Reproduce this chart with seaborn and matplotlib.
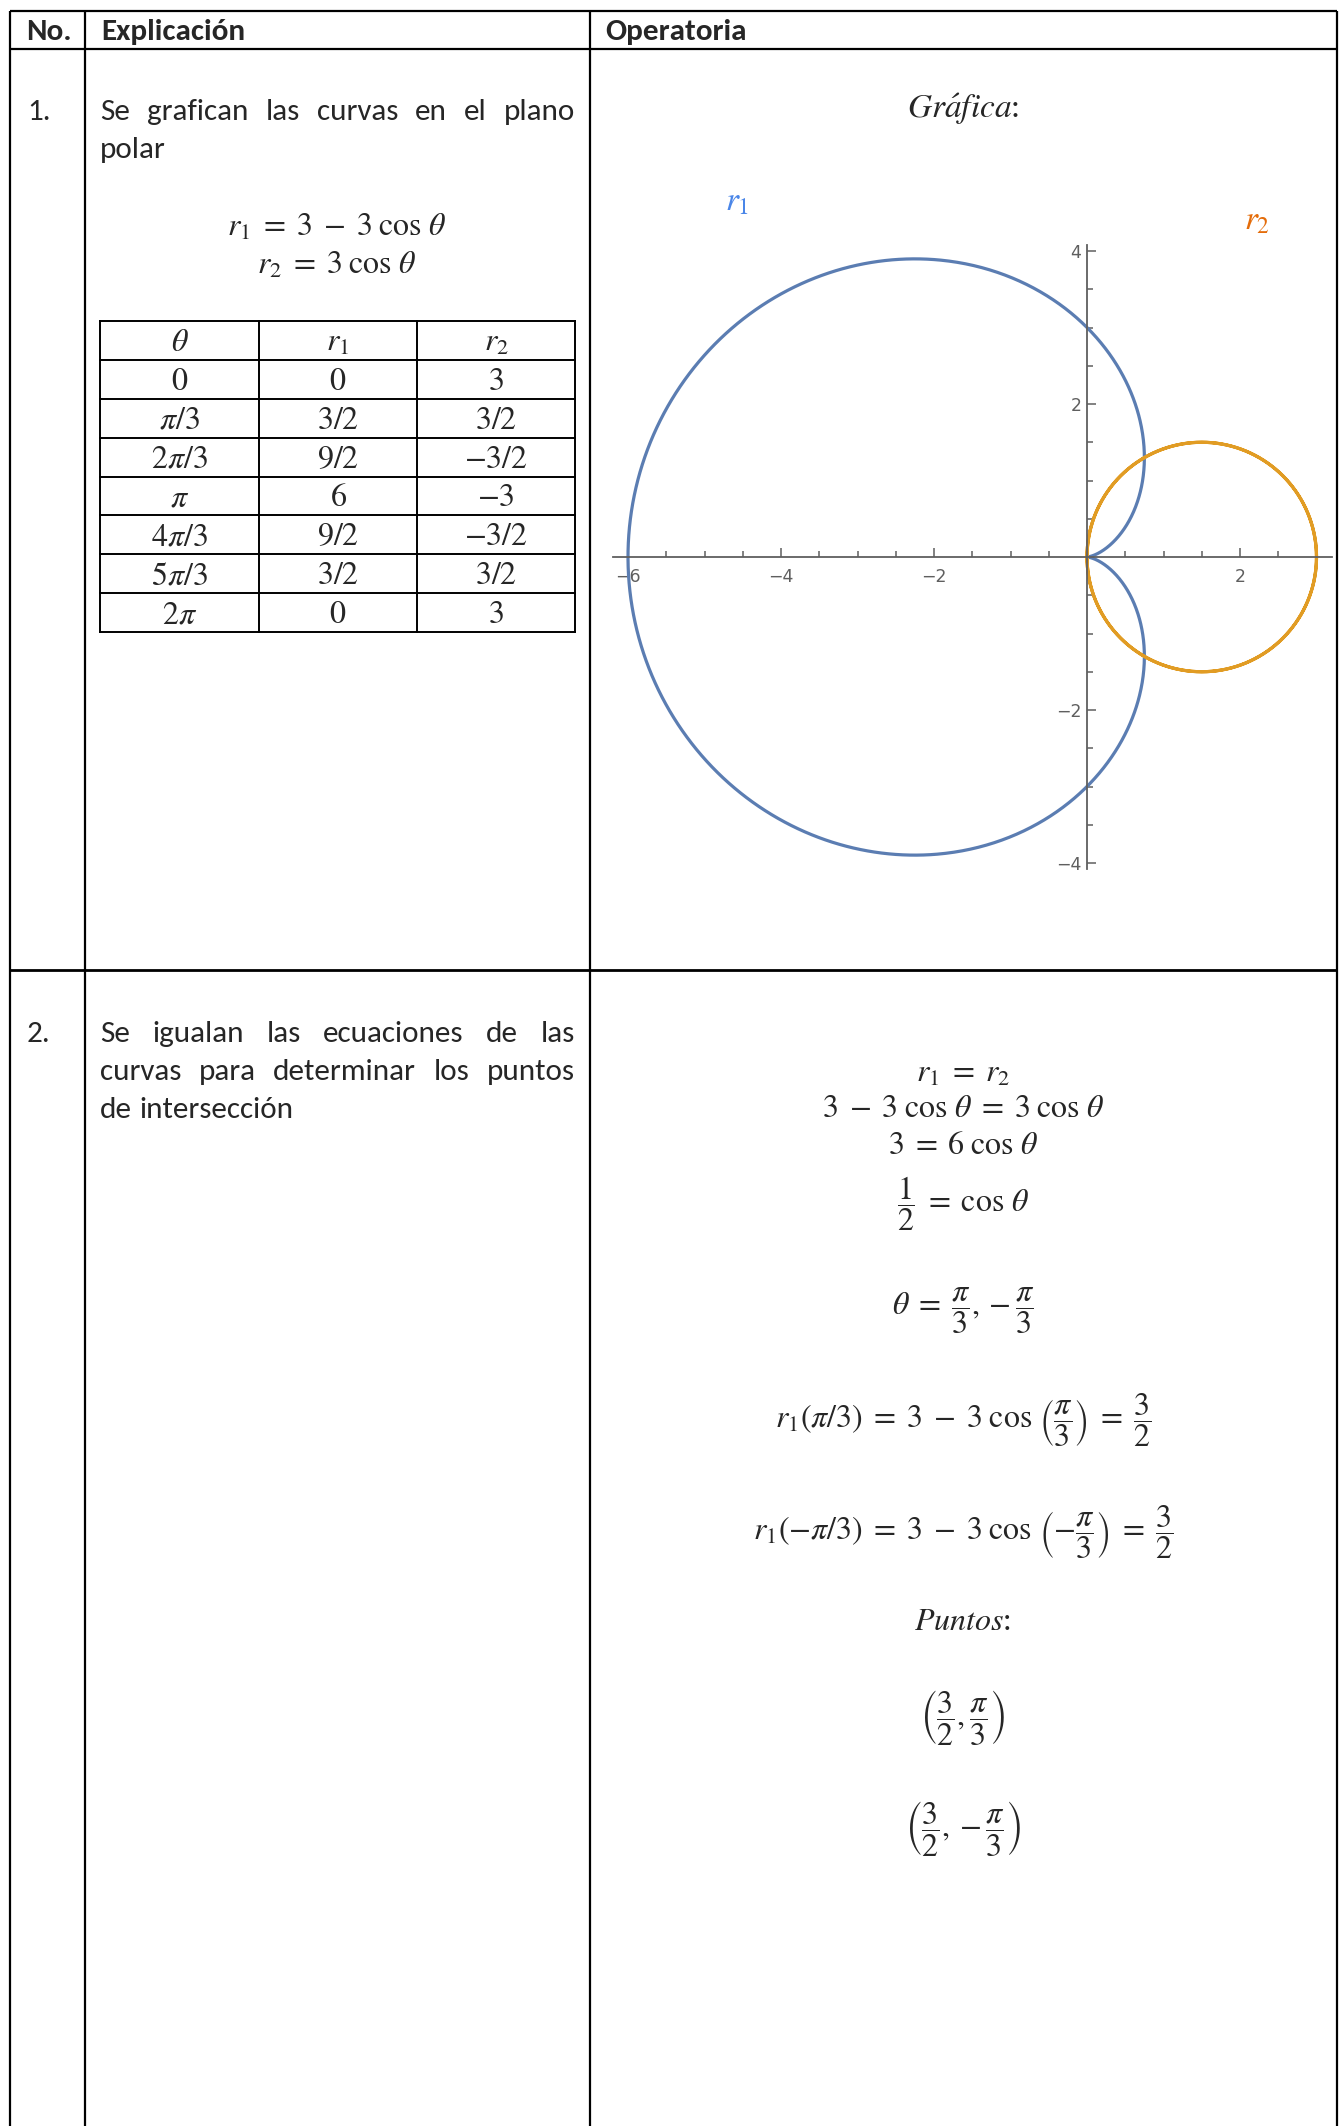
import numpy as np
import pandas as pd
import matplotlib
matplotlib.use("Agg")
import matplotlib.pyplot as plt
import seaborn as sns
from matplotlib import font_manager
from matplotlib.ticker import FixedLocator

# ---------------------------------------------------------------- content
header_labels = ["No.", "Explicación", "Operatoria"]
step_numbers = ["1.", "2."]
step1_text = ["Se grafican las curvas en el plano", "polar"]
step2_text = ["Se igualan las ecuaciones de las",
              "curvas para determinar los puntos",
              "de intersección"]

curve_equations = [r"$r_1\;=\;3\;-\;3\;\cos\,\theta$", r"$r_2\;=\;3\;\cos\,\theta$"]

table_header = [r"$\theta$", r"$r_1$", r"$r_2$"]
theta_values = [r"$0$", r"$\pi/3$", r"$2\pi/3$", r"$\pi$", r"$4\pi/3$", r"$5\pi/3$", r"$2\pi$"]
r1_values = [r"$0$", r"$3/2$", r"$9/2$", r"$6$", r"$9/2$", r"$3/2$", r"$0$"]
r2_values = [r"$3$", r"$3/2$", r"$-3/2$", r"$-3$", r"$-3/2$", r"$3/2$", r"$3$"]

# r1 = a - b cos(theta) ; r2 = c cos(theta)
r1_a, r1_b = 3.0, 3.0
r2_c = 3.0

x_tick_values = [-6, -4, -2, 2]
y_tick_values = [-4, -2, 2, 4]

solution_lines = [
    r"$r_1\;=\;r_2$",
    r"$3\;-\;3\;\cos\,\theta\;=\;3\;\cos\,\theta$",
    r"$3\;=\;6\;\cos\,\theta$",
    r"$\dfrac{1}{2}\;=\;\cos\,\theta$",
    r"$\theta\;=\;\dfrac{\pi}{3},-\dfrac{\pi}{3}$",
    r"$r_1(\pi/3)\;=\;3\;-\;3\;\cos\,\left(\dfrac{\pi}{3}\right)\;=\;\dfrac{3}{2}$",
    r"$r_1(-\pi/3)\;=\;3\;-\;3\;\cos\,\left(-\dfrac{\pi}{3}\right)\;=\;\dfrac{3}{2}$",
    r"$Puntos$:",
    r"$\left(\dfrac{3}{2},\dfrac{\pi}{3}\right)$",
    r"$\left(\dfrac{3}{2},-\dfrac{\pi}{3}\right)$",
]

# ---------------------------------------------------------------- style
W, H = 1339, 2126
sns.set_style("white")
available = {f.name for f in font_manager.fontManager.ttflist}
body_font = next(f for f in ["Carlito", "Lato", "Open Sans", "DejaVu Sans"] if f in available)
plt.rcParams["font.family"] = [body_font, "DejaVu Sans"]
plt.rcParams["mathtext.fontset"] = "stix"

BLUE = "#5b7db2"
ORANGE = "#e19c24"
LABEL_BLUE = "#4a86e8"
LABEL_ORANGE = "#e46c0a"
TICK_GREY = "#5f5f5f"

BODY = 22.4
MATH = 23

fig = plt.figure(figsize=(W / 100, H / 100), dpi=100)
fig.patch.set_facecolor("white")

# page layer in pixel units
bg = fig.add_axes([0, 0, 1, 1])
bg.set_xlim(0, W)
bg.set_ylim(H, 0)
bg.axis("off")
renderer = fig.canvas.get_renderer()

# outer table grid
X_L, X_C1, X_C2, X_R = 10, 85, 590, 1337
Y_T, Y_H, Y_R1 = 11, 49, 970
lk = dict(color="black", lw=1.6, solid_capstyle="butt")
for y in (Y_T, Y_H):
    bg.plot([X_L, X_R], [y, y], **lk)
bg.plot([X_L, X_R], [Y_R1, Y_R1], color="black", lw=2.0, solid_capstyle="butt")
for x in (X_L, X_C1, X_C2, X_R):
    bg.plot([x, x], [Y_T, H], **lk)

# headers
for label, x in zip(header_labels, [26, 101, 605]):
    bg.text(x, 40, label, fontsize=BODY, fontweight="bold", va="baseline", ha="left")

for label, y in zip(step_numbers, [120, 1042]):
    bg.text(27, y, label, fontsize=BODY, va="baseline", ha="left")


def width_of(artist):
    return artist.get_window_extent(renderer).width


def paragraph(lines, x0, x1, baselines):
    """Justified paragraph: every line but the last is spread to the full width."""
    probe = bg.text(0, 0, "a a", fontsize=BODY)
    probe2 = bg.text(0, 0, "aa", fontsize=BODY)
    space = width_of(probe) - width_of(probe2)
    probe.remove()
    probe2.remove()
    for i, (line, y) in enumerate(zip(lines, baselines)):
        words = line.split()
        arts = [bg.text(x0, y, w, fontsize=BODY, va="baseline", ha="left") for w in words]
        widths = [width_of(a) for a in arts]
        if i < len(lines) - 1 and len(words) > 1:
            gap = (x1 - x0 - sum(widths)) / (len(words) - 1)
        else:
            gap = space
        x = x0
        for a, w in zip(arts, widths):
            a.set_x(x)
            x += w + gap


paragraph(step1_text, 100, 575, [120, 158])
paragraph(step2_text, 100, 575, [1042, 1080, 1118])

# curve equations
for eq, y in zip(curve_equations, [236, 274]):
    bg.text(337, y, eq, fontsize=MATH, ha="center", va="baseline")

# value table
TX = [100, 259, 417, 575]
TY0, TROW = 321, 38.875
n_rows = len(theta_values) + 1
for i in range(n_rows + 1):
    y = TY0 + i * TROW
    bg.plot([TX[0], TX[-1]], [y, y], color="black", lw=1.4, solid_capstyle="projecting")
for x in TX:
    bg.plot([x, x], [TY0, TY0 + n_rows * TROW], color="black", lw=1.4, solid_capstyle="projecting")
columns = [[table_header[0]] + theta_values,
           [table_header[1]] + r1_values,
           [table_header[2]] + r2_values]
for c, col in enumerate(columns):
    cx = (TX[c] + TX[c + 1]) / 2
    for r, val in enumerate(col):
        bg.text(cx, TY0 + r * TROW + 30, val, fontsize=MATH, ha="center", va="baseline")

# right column of row 1
bg.text(963, 118, r"$Gr\acute{a}fica$:", fontsize=MATH + 1, ha="center", va="baseline")
bg.text(737, 203, r"$r_1$", fontsize=MATH + 1, color=LABEL_BLUE, ha="center", va="center")
bg.text(1257, 222, r"$r_2$", fontsize=MATH + 1, color=LABEL_ORANGE, ha="center", va="center")

# row 2 derivation
solution_baselines = [1082, 1117, 1154, 1212, 1315, 1428, 1540, 1630, 1727, 1838]
for eq, y in zip(solution_lines, solution_baselines):
    bg.text(963, y, eq, fontsize=MATH, ha="center", va="baseline")

# ---------------------------------------------------------------- polar plot
theta = np.linspace(0, 2 * np.pi, 1441)
r1 = r1_a - r1_b * np.cos(theta)
r2 = r2_c * np.cos(theta)
curves = pd.DataFrame({
    "x": np.concatenate([r1 * np.cos(theta), r2 * np.cos(theta)]),
    "y": np.concatenate([r1 * np.sin(theta), r2 * np.sin(theta)]),
    "curve": ["r1"] * len(theta) + ["r2"] * len(theta),
})

ORIGIN_X, ORIGIN_Y, UNIT = 1087, 557, 76.5
XLIM = (-6.35, 3.3)
YLIM = (-4.3, 4.3)
ax_w = (XLIM[1] - XLIM[0]) * UNIT
ax_h = (YLIM[1] - YLIM[0]) * UNIT
ax_left = ORIGIN_X + XLIM[0] * UNIT
ax_top = ORIGIN_Y - YLIM[1] * UNIT
ax = fig.add_axes([ax_left / W, (H - ax_top - ax_h) / H, ax_w / W, ax_h / H])
ax.patch.set_alpha(0)

sns.lineplot(data=curves, x="x", y="y", hue="curve",
             palette={"r1": BLUE, "r2": ORANGE}, sort=False, estimator=None,
             legend=False, lw=2.3, ax=ax)
ax.set_xlim(*XLIM)
ax.set_ylim(*YLIM)
ax.set_xlabel("")
ax.set_ylabel("")

for side in ("top", "right"):
    ax.spines[side].set_visible(False)
for side in ("left", "bottom"):
    ax.spines[side].set_position(("data", 0))
    ax.spines[side].set_color(TICK_GREY)
    ax.spines[side].set_linewidth(1.3)
ax.spines["bottom"].set_bounds(-6.2, 3.2)
ax.spines["left"].set_bounds(-4.08, 4.08)

ax.set_xticks(x_tick_values, labels=[str(v).replace("-", "\u2212") for v in x_tick_values])
ax.set_yticks(y_tick_values, labels=[str(v).replace("-", "\u2212") for v in y_tick_values])
x_minor = [v for v in np.arange(-6, 3.01, 0.5) if v not in x_tick_values and v != 0]
y_minor = [v for v in np.arange(-4, 4.01, 0.5) if v not in y_tick_values and v != 0]
ax.xaxis.set_minor_locator(FixedLocator(x_minor))
ax.yaxis.set_minor_locator(FixedLocator(y_minor))
ax.tick_params(which="both", bottom=True, left=True, top=False, right=False,
               direction="in", color=TICK_GREY, width=1.1,
               labelcolor=TICK_GREY, labelsize=12.5)
ax.tick_params(which="major", length=6.5)
ax.tick_params(which="minor", length=4.5)
ax.tick_params(axis="x", which="major", pad=8)
ax.tick_params(axis="y", which="major", pad=4)
for lbl in ax.get_xticklabels() + ax.get_yticklabels():
    lbl.set_family(["DejaVu Sans"])

fig.savefig("out.png", dpi=100, facecolor="white")
